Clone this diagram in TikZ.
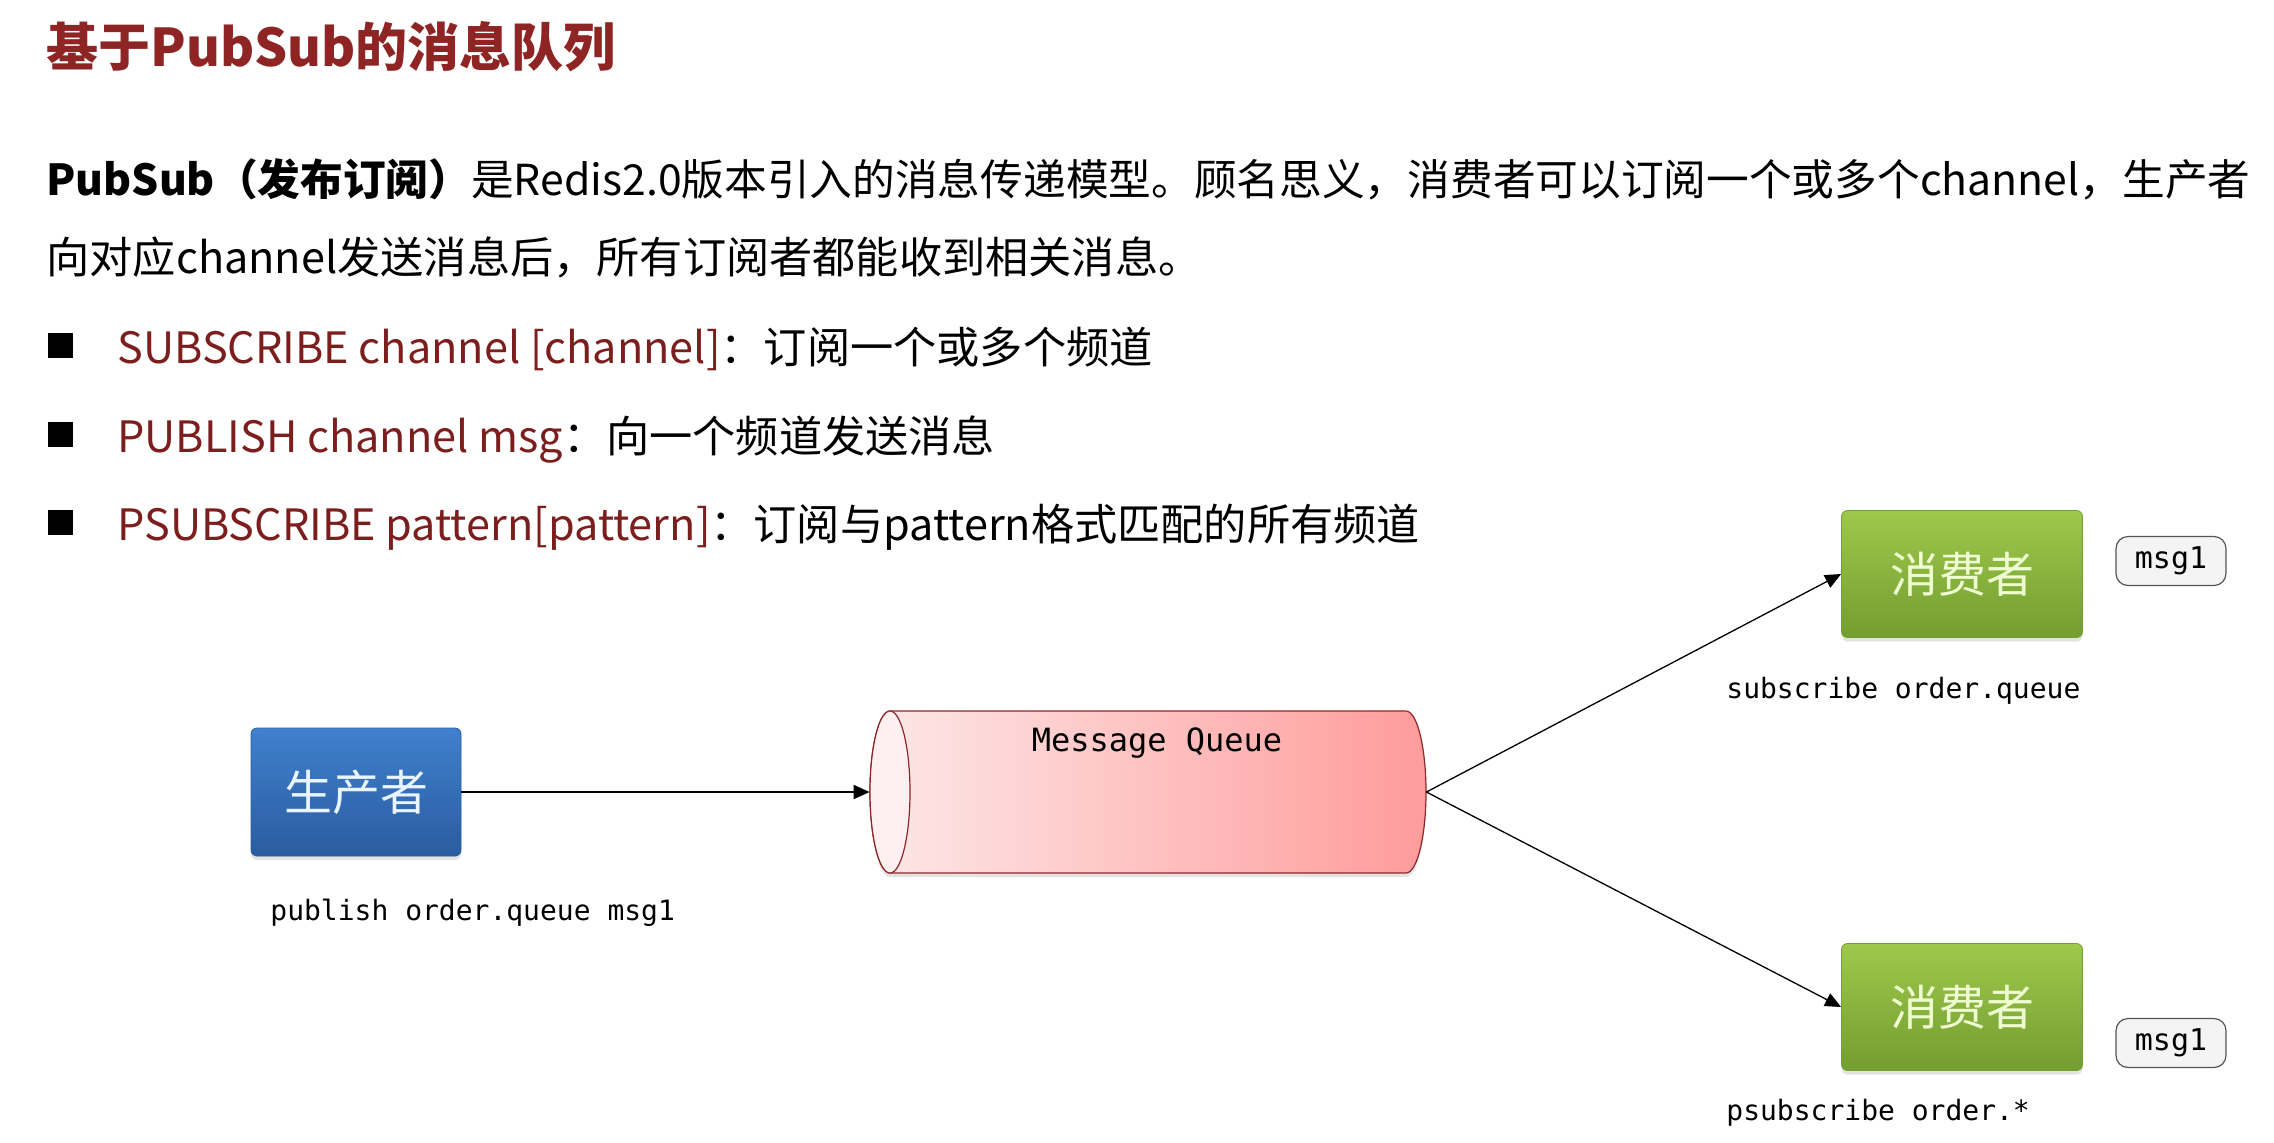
\documentclass[tikz,border=0pt]{standalone}
\usepackage{fontspec}
\setmainfont{Noto Sans CJK SC}
\newfontfamily\codefont{DejaVu Sans Mono}
\usepackage{tikz}
\usetikzlibrary{arrows.meta,shadows}

\definecolor{titlered}{RGB}{142,36,36}
\definecolor{cmdred}{RGB}{125,30,30}
\definecolor{prodtop}{RGB}{64,128,205}
\definecolor{prodbot}{RGB}{42,92,160}
\definecolor{prodtext}{RGB}{232,245,255}
\definecolor{constop}{RGB}{158,200,76}
\definecolor{consbot}{RGB}{115,158,48}
\definecolor{constext}{RGB}{240,255,210}
\definecolor{mqleft}{RGB}{253,232,232}
\definecolor{mqright}{RGB}{255,155,155}
\definecolor{mqface}{RGB}{254,240,240}
\definecolor{mqline}{RGB}{140,40,40}
\definecolor{tagfill}{RGB}{244,244,244}
\definecolor{tagline}{RGB}{85,85,85}

\begin{document}
\begin{tikzpicture}[x=0.5pt,y=-0.5pt,
  softshadow/.style={drop shadow={opacity=0.22,shadow xshift=0pt,shadow yshift=-2pt}},
  prodbox/.style={rounded corners=3pt,minimum width=105pt,minimum height=64pt,
    top color=prodtop,bottom color=prodbot,draw=prodbot,softshadow,
    text=prodtext,font=\fontsize{24pt}{28pt}\selectfont},
  consbox/.style={rounded corners=3pt,minimum width=120.5pt,minimum height=63.5pt,
    top color=constop,bottom color=consbot,draw=consbot,softshadow,
    text=constext,font=\fontsize{24pt}{28pt}\selectfont},
  msgtag/.style={draw=tagline,fill=tagfill,rounded corners=6pt,line width=0.6pt,
    minimum width=55pt,minimum height=24.5pt,font=\codefont\fontsize{15pt}{18pt}\selectfont},
  cmdlabel/.style={anchor=base west,inner sep=0pt,font=\codefont\fontsize{14pt}{17pt}\selectfont},
  bodytext/.style={anchor=base west,inner sep=0pt,font=\fontsize{21.6pt}{26pt}\selectfont},
  flow/.style={-{Triangle[length=8pt,width=7pt]},line width=0.65pt}]

  % Page
  \fill[white] (0,0) rectangle (2274,1142);
  \useasboundingbox (0,0) rectangle (2274,1142);

  % Title and text
  \node[anchor=base west,inner sep=0pt,text=titlered,
    font=\bfseries\fontsize{26pt}{31pt}\selectfont] (title) at (46,66) {基于PubSub的消息队列};
  \node[bodytext,font=\fontsize{21.35pt}{26pt}\selectfont] (line1) at (46,195)
    {{\bfseries PubSub（发布订阅）}是Redis2.0版本引入的消息传递模型。顾名思义，消费者可以订阅一个或多个channel，生产者};
  \node[bodytext] (line2) at (46,273) {向对应channel发送消息后，所有订阅者都能收到相关消息。};

  % Command list
  \foreach \y/\cmd/\desc [count=\k] in {363/{SUBSCRIBE channel [channel]}/订阅一个或多个频道,
      452/{PUBLISH channel msg}/向一个频道发送消息,
      540/{PSUBSCRIBE pattern[pattern]}/订阅与pattern格式匹配的所有频道} {
    \fill (48,\y-30) rectangle (73,\y-5);
    \node[bodytext] (cmd\k) at (117,\y) {\textcolor{cmdred}{\cmd}：\desc};
  }

  % Message queue
  \node[minimum width=278pt,minimum height=81pt,inner sep=0pt] (mq) at (1148,792) {};
  \shade[left color=mqleft,right color=mqright,draw=mqline,line width=0.6pt,softshadow]
    (890,711) -- (1406,711) arc[start angle=-90,end angle=90,x radius=20,y radius=81]
    -- (890,873) arc[start angle=90,end angle=270,x radius=20,y radius=81] -- cycle;
  \draw[mqline,fill=mqface,line width=0.6pt] (890,792) ellipse[x radius=20,y radius=81];
  \node[anchor=base,inner sep=0pt,font=\codefont\fontsize{16pt}{19pt}\selectfont] (mqname) at (1157,751) {Message Queue};

  % Producer and consumers
  \node[prodbox] (prod) at (356,792) {生产者};
  \node[consbox] (consA) at (1962,574) {消费者};
  \node[consbox] (consB) at (1962,1007) {消费者};
  \node[msgtag] (tagA) at (2171,561) {msg1};
  \node[msgtag] (tagB) at (2171,1043) {msg1};

  % Commands
  \node[cmdlabel] (pubcmd) at (270,920) {publish order.queue msg1};
  \node[cmdlabel] (subcmd) at (1726,698) {subscribe order.queue};
  \node[cmdlabel] (psubcmd) at (1726,1120) {psubscribe order.*};

  % Connectors
  \draw[flow,line width=1pt] (prod) -- (mq.west);
  \draw[flow] (mq.east) -- (consA.west);
  \draw[flow] (mq.east) -- (consB.west);
\end{tikzpicture}
\end{document}
